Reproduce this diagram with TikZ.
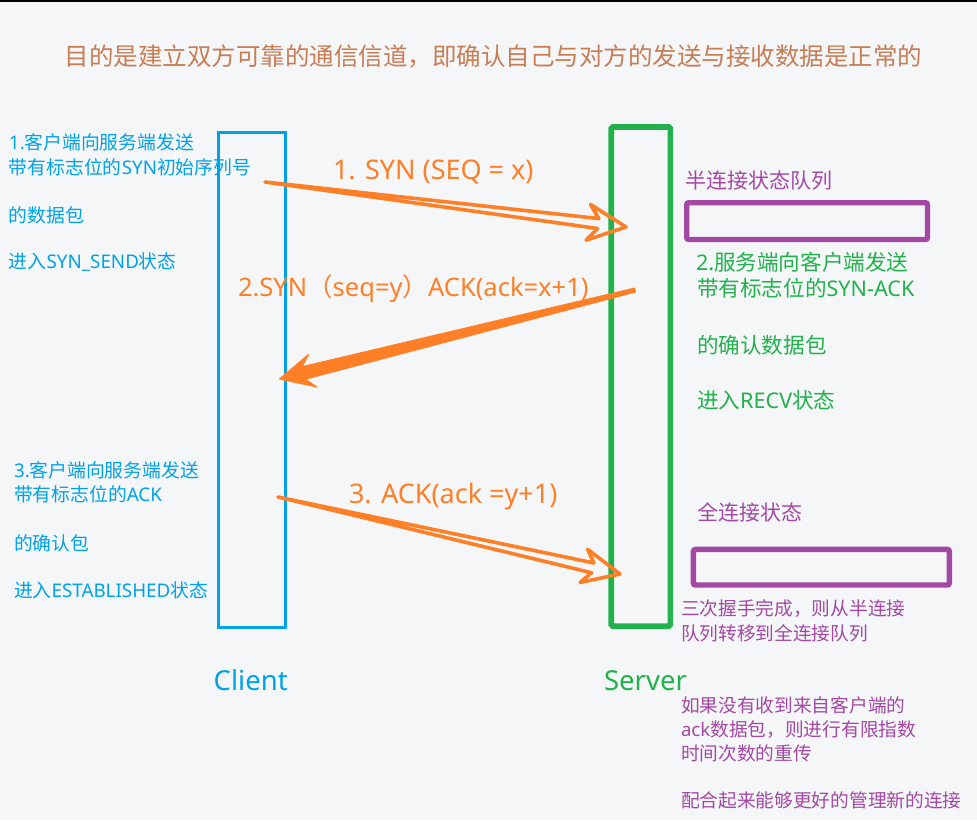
\documentclass[tikz,border=0pt]{standalone}
\usepackage{fontspec}
\setmainfont{Noto Sans CJK SC}
\newfontfamily\lat{Noto Sans}
\newfontfamily\cjkpar{Noto Sans CJK SC}
\usetikzlibrary{calc}
\definecolor{bg}{RGB}{244,246,248}
\definecolor{cblue}{RGB}{0,162,232}
\definecolor{cgreen}{RGB}{34,177,76}
\definecolor{corange}{RGB}{255,127,39}
\definecolor{cpurple}{RGB}{163,73,164}
\definecolor{ctitle}{RGB}{200,125,85}
\newcommand\fs[1]{\fontsize{#1}{#1}\selectfont}
\begin{document}
\begin{tikzpicture}[x=1pt,y=-1pt,
  txt/.style={anchor=base west, inner sep=0pt, outer sep=0pt},
  bluetxt/.style={txt, text=cblue, font=\fs{18.8}},
  greentxt/.style={txt, text=cgreen, font=\fs{21.6}},
  purpbig/.style={txt, text=cpurple, font=\fs{21}},
  purpsmall/.style={txt, text=cpurple, font=\fs{18.7}},
  arrowlabel/.style={txt, text=corange, font=\lat\fs{27}},
  hollowarrow/.style={draw=corange, line width=3.6pt, line join=round, line cap=round},
  solidarrow/.style={draw=corange, fill=corange, line width=1pt, line join=round},
  clientbox/.style={draw=cblue, line width=2.6pt, minimum width=66.8pt, minimum height=494.5pt, inner sep=0pt},
  serverbox/.style={draw=cgreen, line width=5.6pt, rounded corners=1.5pt, minimum width=59.1pt, minimum height=499.2pt, inner sep=0pt},
  queuebox/.style={draw=cpurple, line width=5.3pt, rounded corners=2pt, inner sep=0pt},
  endlabel/.style={anchor=base, inner sep=0pt, font=\lat\fs{27.5}}
]
\useasboundingbox (0,0) rectangle (977,820);
\fill[bg] (0,0) rectangle (977,820);
\fill[black] (0,0) rectangle (977,1.8);

% title
\node[anchor=base, inner sep=0pt, text=ctitle, font=\fs{24.5}] (title) at (493.5,65) {目的是建立双方可靠的通信信道，即确认自己与对方的发送与接收数据是正常的};

% boxes
\node[clientbox] (client) at (252.1,380) {};
\node[serverbox] (server) at (640.75,376.6) {};
\node[queuebox, minimum width=240.8pt, minimum height=36.8pt] (halfq) at (807.1,221.1) {};
\node[queuebox, minimum width=256pt, minimum height=35.7pt] (fullq) at (821.35,567.2) {};

\node[endlabel, text=cblue] (clientlbl) at (250.7,690) {Client};
\node[endlabel, text=cgreen] (serverlbl) at (645.5,690) {Server};

% left texts (client)
\node[bluetxt] (c1a) at (9,149.7) {{\lat 1.}客户端向服务端发送};
\node[bluetxt] (c1b) at (9,174.7) {带有标志位的{\lat SYN}初始序列号};
\node[bluetxt] (c1c) at (9,222) {的数据包};
\node[bluetxt] (c1d) at (9,268.7) {进入{\lat SYN\_SEND}状态};

\node[bluetxt] (c3a) at (14,477.7) {{\lat 3.}客户端向服务端发送};
\node[bluetxt] (c3b) at (14,501.3) {带有标志位的{\lat ACK}};
\node[bluetxt] (c3c) at (14,550) {的确认包};
\node[bluetxt] (c3d) at (14,597.7) {进入{\lat ESTABLISHED}状态};

% right texts (server)
\node[purpbig] (halfqlbl) at (685,188) {半连接状态队列};
\node[greentxt] (s2a) at (696,270) {{\lat 2.}服务端向客户端发送};
\node[greentxt] (s2b) at (697,296) {带有标志位的{\lat SYN-ACK}};
\node[greentxt] (s2c) at (697,353) {的确认数据包};
\node[greentxt] (s2d) at (697,408) {进入{\lat RECV}状态};

\node[purpbig] (fullqlbl) at (697,520.7) {全连接状态};
\node[purpsmall] (n1) at (681,615) {三次握手完成，则从半连接};
\node[purpsmall] (n2) at (681,640) {队列转移到全连接队列};
\node[purpsmall] (n3) at (681,712) {如果没有收到来自客户端的};
\node[purpsmall] (n4) at (681,736) {{\lat ack}数据包，则进行有限指数};
\node[purpsmall] (n5) at (681,760) {时间次数的重传};
\node[purpsmall] (n6) at (681,807) {配合起来能够更好的管理新的连接};

% arrow labels
\node[arrowlabel] (l1) at (333,179.3) {1. SYN (SEQ = x)};
\node[arrowlabel, font=\lat\fs{25.5}] (l2) at (238,296.7) {2.SYN{\cjkpar（}seq=y{\cjkpar）}ACK(ack=x+1)};
\node[arrowlabel] (l3) at (349,503.3) {3. ACK(ack =y+1)};

% arrows
\coordinate (s1) at (265,182);
\coordinate (e1) at (626,227);
\coordinate (s2) at (635,290);
\coordinate (e2) at (279.5,379);
\coordinate (s3) at (278,497);
\coordinate (e3) at (620,574);

\draw[hollowarrow] (s1) -- ($(e1)!28pt!(s1)!5pt!90:(e1)$) -- ($(e1)!38pt!(s1)!18pt!90:(e1)$) -- (e1)
  -- ($(e1)!38pt!(s1)!18pt!-90:(e1)$) -- ($(e1)!28pt!(s1)!5pt!-90:(e1)$) -- cycle;

\draw[solidarrow] ($(s2)!2pt!90:(e2)$) -- ($(e2)!25pt!(s2)!6.5pt!-90:(s2)$) -- ($(e2)!34.5pt!(s2)!17pt!-90:(s2)$) -- (e2)
  -- ($(e2)!34.5pt!(s2)!17pt!90:(s2)$) -- ($(e2)!25pt!(s2)!6.5pt!90:(s2)$) -- ($(s2)!2pt!-90:(e2)$) -- cycle;

\draw[hollowarrow] (s3) -- ($(e3)!28pt!(s3)!5pt!90:(e3)$) -- ($(e3)!37pt!(s3)!17pt!90:(e3)$) -- (e3)
  -- ($(e3)!37pt!(s3)!17pt!-90:(e3)$) -- ($(e3)!28pt!(s3)!5pt!-90:(e3)$) -- cycle;
\end{tikzpicture}
\end{document}
